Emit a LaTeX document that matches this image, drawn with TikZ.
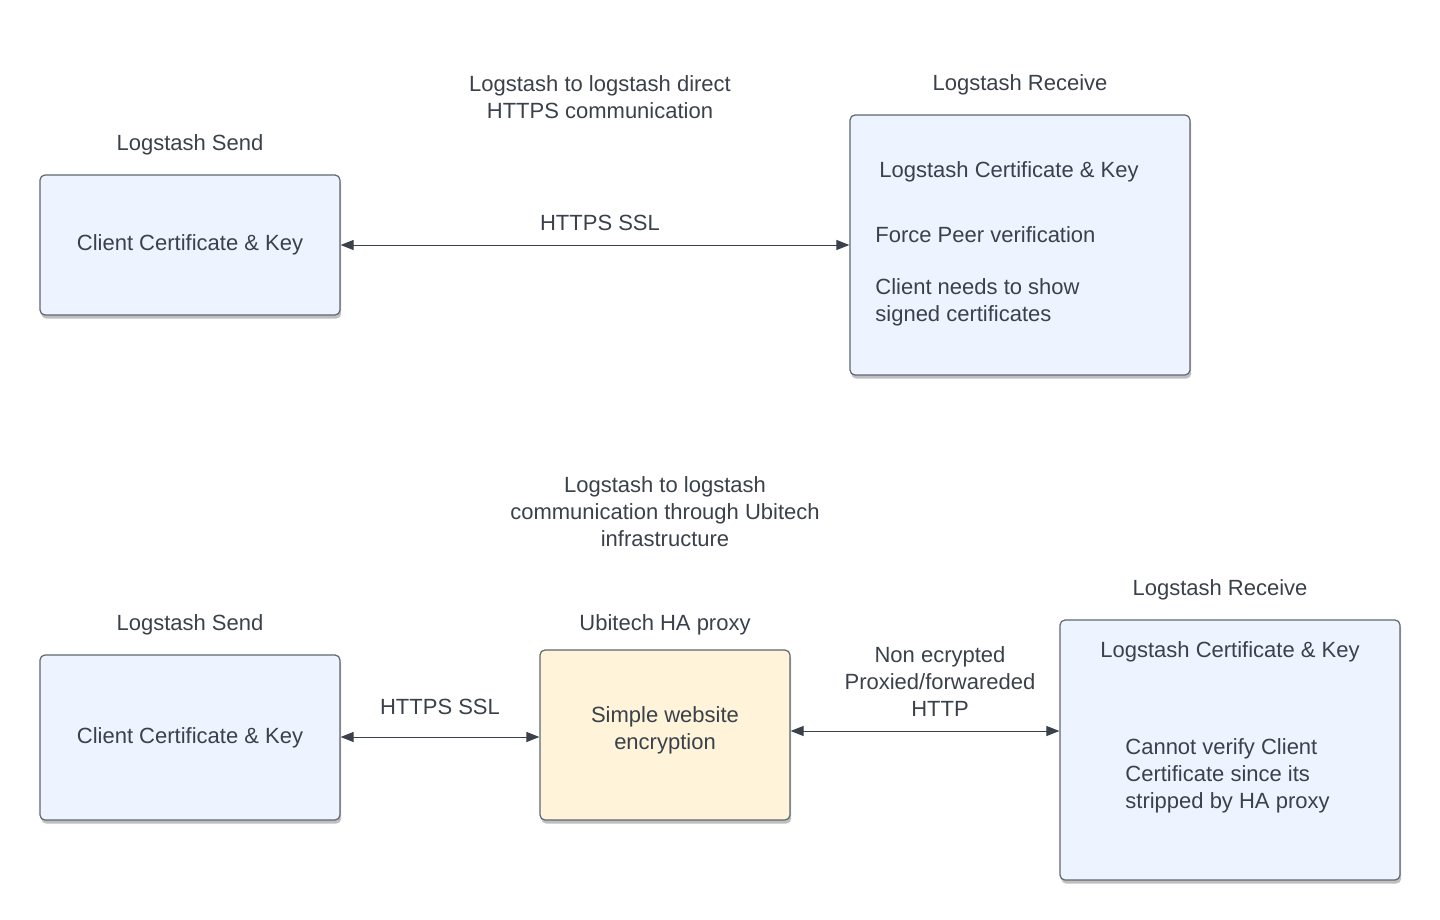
\documentclass[tikz,border=0pt]{standalone}
\usepackage{fontspec}
\setmainfont{Liberation Sans}
\usetikzlibrary{arrows.meta,shadows}

\definecolor{boxblue}{HTML}{EDF4FF}
\definecolor{boxyellow}{HTML}{FFF3D9}
\definecolor{boxline}{HTML}{5F6672}
\definecolor{inkgray}{HTML}{3A414A}

\tikzset{
  box/.style={fill=boxblue,draw=boxline,line width=0.6pt,rounded corners=2.5pt,
    drop shadow={shadow xshift=0.6pt,shadow yshift=-1.8pt,opacity=0.25,fill=black}},
  lbl/.style={text=inkgray,font=\fontsize{11}{13.5}\selectfont,align=center,inner sep=0pt},
  link/.style={{Triangle[length=6.5pt,width=5pt]}-{Triangle[length=6.5pt,width=5pt]},
    draw=inkgray,line width=0.5pt}
}

\begin{document}
\begin{tikzpicture}[x=0.5pt,y=-0.5pt]
      \useasboundingbox (0,0) rectangle (1440,920);
      % upper diagram: direct connection
      \draw
        (190,245) node[box,minimum width=150pt,minimum height=70pt,lbl] (s1){Client Certificate \& Key}
        (1020,245) node[box,minimum width=170pt,minimum height=130pt] (r1){};
      \node[lbl] (t1) at (600,97) {Logstash to logstash direct\\HTTPS communication};
      \node[lbl] (s1h) at (190,145) {Logstash Send};
      \node[lbl] (r1h) at (1020,85) {Logstash Receive};
      \node[lbl,anchor=west] (r1a) at (879,172) {Logstash Certificate \& Key};
      \node[lbl,anchor=west] (r1b) at (875,235) {Force Peer verification};
      \node[lbl,anchor=west,align=left] (r1c) at (875,302) {Client needs to show\\signed certificates};
      \begin{scope}[link]
        \draw (s1) to node[lbl,above=7pt,xshift=2.5pt] {HTTPS SSL} (r1);
      \end{scope}
      % lower diagram: through the proxy
      \draw
        (190,737.5) node[box,minimum width=150pt,minimum height=82.5pt,lbl] (s2){Client Certificate \& Key}
        (665,735) node[box,fill=boxyellow,minimum width=125pt,minimum height=85pt] (px){}
        (1230,750) node[box,minimum width=170pt,minimum height=130pt] (r2){};
      \node[lbl] (pxt) at (665,730) {Simple website\\encryption};
      \node[lbl] (t2) at (665,512) {Logstash to logstash\\communication through Ubitech\\infrastructure};
      \node[lbl] (s2h) at (190,625) {Logstash Send};
      \node[lbl] (pxh) at (665,625) {Ubitech HA proxy};
      \node[lbl] (r2h) at (1220,590) {Logstash Receive};
      \node[lbl] (r2a) at (1230,652) {Logstash Certificate \& Key};
      \node[lbl,anchor=west,align=left] (r2b) at (1125,776) {Cannot verify Client\\Certificate since its\\stripped by HA proxy};
      \coordinate (p1) at (px.east |- 0,731);
      \coordinate (p2) at (r2.west |- 0,731);
      \begin{scope}[link]
        \draw (s2.east |- 0,737) to node[lbl,above=11pt] {HTTPS SSL} (px.west |- 0,737);
        \draw (p1) to node[lbl,above=7pt,xshift=7.5pt] {Non ecrypted\\Proxied/forwareded\\HTTP} (p2);
      \end{scope}
    \end{tikzpicture}
\end{document}
